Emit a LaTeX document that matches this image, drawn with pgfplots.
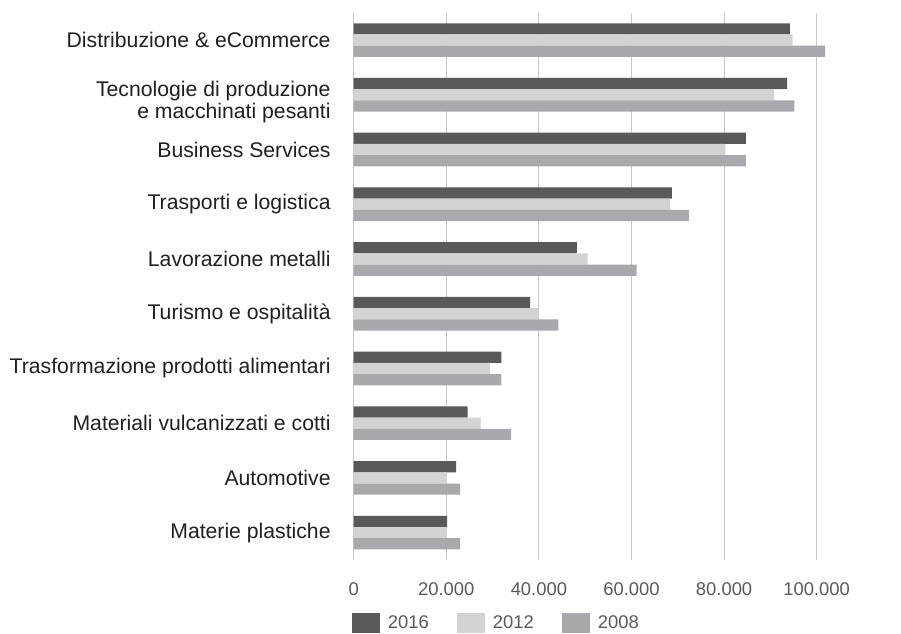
\documentclass[border=0pt]{standalone}
\usepackage{fontspec}
\setmainfont{Liberation Sans}
\usepackage{pgfplots}
\pgfplotsset{compat=1.18}
\definecolor{cA}{HTML}{58595B}
\definecolor{cB}{HTML}{D1D3D4}
\definecolor{cC}{HTML}{A7A9AC}
\definecolor{gridc}{HTML}{C8C8C8}
\definecolor{lab}{HTML}{231F20}
\definecolor{tickc}{HTML}{595959}
\begin{document}
\begin{tikzpicture}
\begin{axis}[
  at={(176.85pt,36.5pt)}, anchor=south west,
  scale only axis, width=254.65pt, height=273.65pt,
  xbar=0pt, bar width=5.6pt,
  xmin=0, xmax=110000, ymin=-0.5, ymax=9.5, y dir=reverse,
  ytick={0,...,9},
  yticklabels={Distribuzione \& eCommerce,{\rule{0pt}{15pt}Tecnologie di produzione\\[-0.85pt]e macchinati pesanti},Business Services,Trasporti e logistica,Lavorazione metalli,Turismo e ospitalità,Trasformazione prodotti alimentari,Materiali vulcanizzati e cotti,Automotive,Materie plastiche},
  xtick={0,20000,40000,60000,80000,100000},
  xticklabels={0,20.000,40.000,60.000,80.000,100.000},
  xmajorgrids, major grid style={draw=gridc, line width=0.5pt},
  axis line style={draw=none},
  major tick length=0pt,
  tick style={draw=none},
  xticklabel style={font=\fontsize{9.2}{11}\selectfont, text=tickc, anchor=base, yshift=-17.5pt, inner sep=0pt},
  yticklabel style={font=\fontsize{10.6}{12}\selectfont, text=lab, anchor=east, align=right, inner sep=0pt, xshift=-11.35pt},
  legend columns=3,
  legend image code/.code={\fill[#1,draw=none] (0pt,-4.5pt) rectangle (14pt,5.5pt);},
  legend style={at={(0,0)}, anchor=north west, xshift=-0.85pt, yshift=-26.5pt,
    draw=none, fill=none, inner sep=0pt, outer sep=0pt,
    font=\fontsize{9.2}{11}\selectfont, text=tickc,
    nodes={inner sep=0pt},
    /tikz/every odd column/.append style={column sep=4pt},
    /tikz/every even column/.append style={column sep=14pt}},
]
\addplot[fill=cA, draw=none, bar shift=5.6pt] coordinates {(94200,0) (93600,1) (84700,2) (68700,3) (48200,4) (38100,5) (31900,6) (24600,7) (22100,8) (20200,9)};
\addplot[fill=cB, draw=none, bar shift=0pt] coordinates {(94800,0) (90800,1) (80300,2) (68300,3) (50500,4) (40000,5) (29400,6) (27400,7) (20100,8) (20100,9)};
\addplot[fill=cC, draw=none, bar shift=-5.6pt] coordinates {(101800,0) (95200,1) (84700,2) (72400,3) (61100,4) (44200,5) (31900,6) (34000,7) (23000,8) (23000,9)};
\legend{2016,2012,2008}
\end{axis}
\pgfresetboundingbox
\useasboundingbox (0,0) rectangle (450.5pt,316.5pt);
\end{tikzpicture}
\end{document}
